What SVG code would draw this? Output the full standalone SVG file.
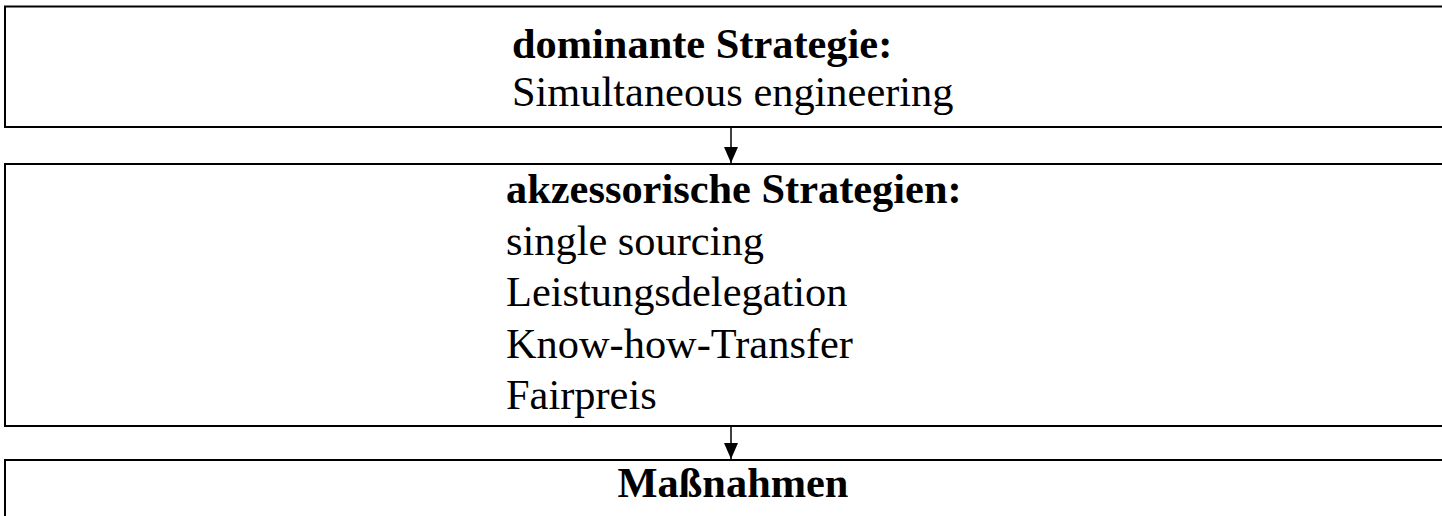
<svg xmlns="http://www.w3.org/2000/svg" width="1442" height="516" viewBox="0 0 1442 516">
<style>
.box{fill:#fff;stroke:#000;stroke-width:2}
.t{font-family:"Liberation Serif","Times New Roman",serif;font-size:42.4px;fill:#000}
.b{font-weight:bold}
.conn{stroke:#000;stroke-width:1.5;fill:none}
</style>
<defs>
<marker id="ah" markerUnits="userSpaceOnUse" markerWidth="16" markerHeight="18" refX="16" refY="7" orient="auto" viewBox="0 0 16 14">
<path d="M0,0 L16,7 L0,14 Z" fill="#000"/>
</marker>
</defs>
<rect width="1442" height="516" fill="#fff"/>
<g id="node-dominant">
<rect class="box" x="5" y="6.5" width="1460" height="120.5"/>
<text class="t b" x="512" y="58">dominante Strategie:</text>
<text class="t" x="512" y="106">Simultaneous engineering</text>
</g>
<g id="node-akzessorisch">
<rect class="box" x="5" y="164" width="1460" height="262"/>
<text class="t b" x="506" y="203">akzessorische Strategien:</text>
<text class="t" x="506" y="255">single sourcing</text>
<text class="t" x="506" y="306">Leistungsdelegation</text>
<text class="t" x="506" y="358">Know-how-Transfer</text>
<text class="t" x="506" y="409">Fairpreis</text>
</g>
<g id="node-massnahmen">
<rect class="box" x="5" y="460" width="1460" height="80"/>
<text class="t b" x="733" y="497" text-anchor="middle">Maßnahmen</text>
</g>
<g id="connectors">
<line class="conn" x1="731" y1="127" x2="731" y2="163" marker-end="url(#ah)"/>
<line class="conn" x1="731" y1="426" x2="731" y2="459" marker-end="url(#ah)"/>
</g>
</svg>
